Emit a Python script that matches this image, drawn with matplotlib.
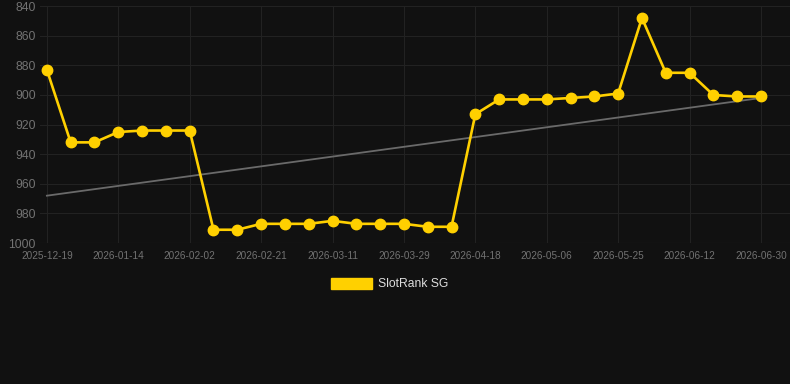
import matplotlib
matplotlib.use("Agg")
import matplotlib.pyplot as plt
import numpy as np

# rank values, one point per date (category axis)
rank = [883, 932, 932, 925, 924, 924, 924, 991, 991, 987,
        987, 987, 985, 987, 987, 987, 989, 989, 913, 903,
        903, 903, 902, 901, 899, 848, 885, 885, 900, 901, 901]
tick_labels = ["2025-12-19", "2026-01-14", "2026-02-02", "2026-02-21",
               "2026-03-11", "2026-03-29", "2026-04-18", "2026-05-06",
               "2026-05-25", "2026-06-12", "2026-06-30"]
trend_ends = [968, 902]

bg = "#111111"
gold = "#FFD000"

plt.rcParams["font.family"] = ["Liberation Sans", "DejaVu Sans"]

fig = plt.figure(figsize=(7.9, 3.84), dpi=100, facecolor=bg)
ax = fig.add_axes([0.0506, 0.367, 0.9494, 0.617], facecolor=bg)

x = np.arange(len(rank))
ax.plot([x[0], x[-1]], trend_ends, color="#6a6a6a", lw=1.3, zorder=2)
ax.plot(x, rank, color=gold, lw=1.9, marker="o", ms=7.5, zorder=3,
        label="SlotRank SG")

ax.set_xlim(-0.29, len(rank) - 1 + 1.22)
ax.set_ylim(1000, 840)
ax.set_yticks(range(840, 1001, 20))
ax.set_xticks(x[::3])
ax.set_xticklabels(tick_labels)

ax.grid(True, color="#222222", lw=0.8)
ax.set_axisbelow(True)
for s in ax.spines.values():
    s.set_visible(False)
ax.tick_params(axis="both", length=0)
ax.tick_params(axis="y", labelsize=8.7, labelcolor="#727272", pad=3)
ax.tick_params(axis="x", labelsize=7.2, labelcolor="#727272", pad=6)
ax.axhline(1000, color="#2c2c2c", lw=0.8)

handle = plt.Rectangle((0, 0), 1, 1, color=gold)
fig.legend([handle], ["SlotRank SG"], loc="center", bbox_to_anchor=(0.493, 0.26),
           frameon=False, labelcolor="#dddddd", fontsize=8.7,
           handlelength=3.4, handleheight=1.0, handletextpad=0.5)

fig.savefig("out.png", dpi=100, facecolor=bg)
